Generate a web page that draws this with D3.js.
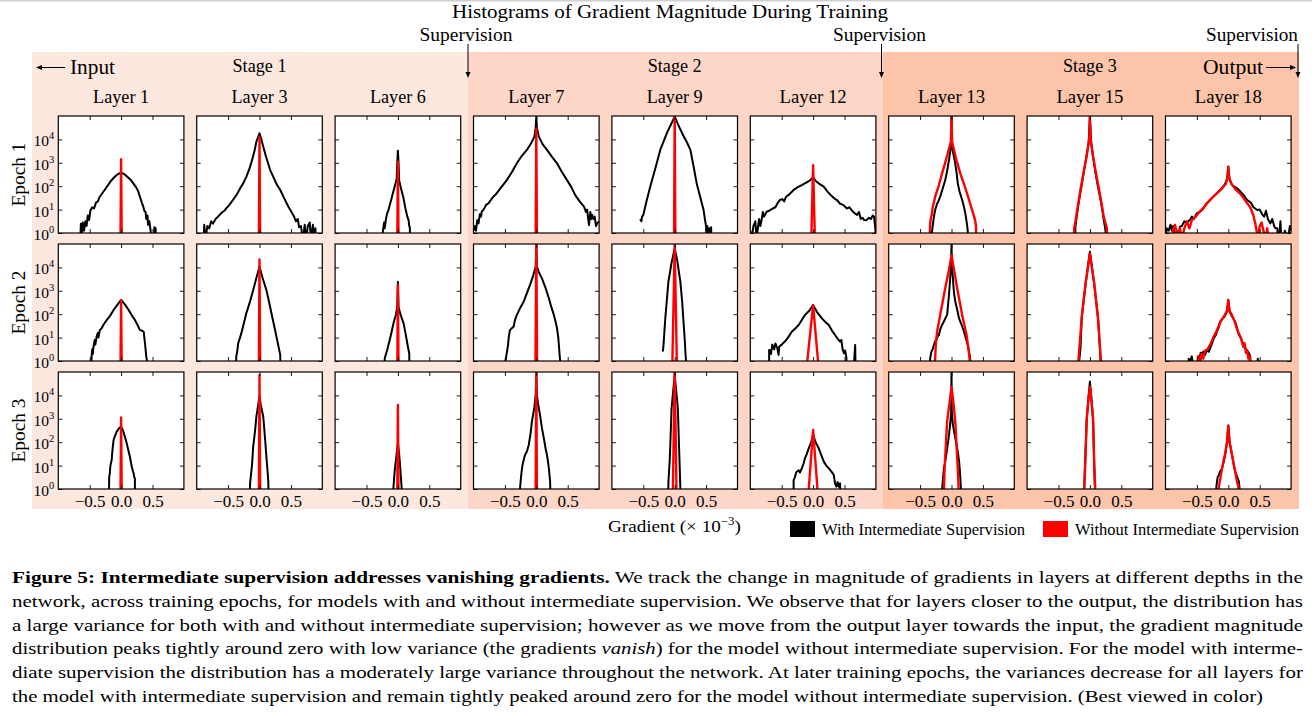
<!DOCTYPE html>
<html><head><meta charset="utf-8">
<script src="https://cdn.jsdelivr.net/npm/d3@7"></script>
<style>
body{margin:0;background:#fff}
svg{display:block}
text{fill:#000}
</style>
</head><body>
<svg id="c" width="1312" height="712"></svg>
<script>
// ---------- labels ----------
const chartTitle = "Histograms of Gradient Magnitude During Training";
const layers = ["Layer 1","Layer 3","Layer 6","Layer 7","Layer 9","Layer 12","Layer 13","Layer 15","Layer 18"];
const epochs = ["Epoch 1","Epoch 2","Epoch 3"];
const stages = ["Stage 1","Stage 2","Stage 3"];
const xTickVals = [-0.5, 0.0, 0.5];
const yTickExps = [0, 1, 2, 3, 4];
const seriesNames = ["With Intermediate Supervision","Without Intermediate Supervision"];

// ---------- data: [gradient (x1e-3), log10(count)] ----------
// Epoch 1
const ep1_l1_with = [[-0.66,-1],[-0.64,0.4],[-0.63,-0.2],[-0.61,0.45],[-0.59,0.1],[-0.57,0.5],[-0.55,0.3],[-0.53,0.75],[-0.51,0.55],[-0.49,0.95],[-0.46,1.1],[-0.43,1.05],[-0.40,1.3],[-0.37,1.35],[-0.34,1.55],[-0.30,1.7],[-0.26,1.85],[-0.22,2.0],[-0.17,2.2],[-0.12,2.35],[-0.07,2.48],[-0.03,2.55],[0,2.58],[0.04,2.53],[0.08,2.45],[0.12,2.35],[0.16,2.25],[0.20,2.1],[0.24,1.95],[0.27,1.8],[0.30,1.55],[0.33,1.3],[0.35,1.15],[0.37,0.95],[0.39,0.9],[0.40,0.6],[0.42,0.75],[0.43,0.35],[0.45,0.5],[0.47,0.1],[0.49,-1],[0.52,-1],[0.53,0.25],[0.55,0.2],[0.56,-1]];
const ep1_l1_wo = [[-0.012,-1],[0,3.15],[0.012,-1]];
const ep1_l3_with = [[-0.90,-1],[-0.88,0.35],[-0.86,-0.3],[-0.83,0.3],[-0.80,0.2],[-0.77,0.5],[-0.74,0.4],[-0.70,0.6],[-0.66,0.7],[-0.61,0.85],[-0.56,0.95],[-0.53,1.05],[-0.48,1.2],[-0.42,1.42],[-0.36,1.65],[-0.31,1.9],[-0.26,2.12],[-0.21,2.4],[-0.16,2.75],[-0.12,3.1],[-0.08,3.5],[-0.05,3.9],[0,4.26],[0.03,4.0],[0.06,3.69],[0.10,3.3],[0.14,2.95],[0.17,2.69],[0.22,2.4],[0.27,2.1],[0.33,1.84],[0.40,1.45],[0.46,1.12],[0.51,0.9],[0.55,0.7],[0.58,0.5],[0.61,0.6],[0.63,0.25],[0.66,0.3],[0.69,-0.3],[0.72,0.35],[0.74,-0.3],[0.77,0.3],[0.80,0.45],[0.82,-0.3],[0.85,0.35],[0.87,-0.2],[0.89,0.2],[0.90,-1]];
const ep1_l3_wo = [[-0.012,-1],[0,4.1],[0.012,-1]];
const ep1_l6_with = [[-0.25,-1],[-0.24,0.05],[-0.22,0.45],[-0.21,0.2],[-0.19,0.6],[-0.17,0.85],[-0.15,0.98],[-0.13,1.2],[-0.10,1.48],[-0.08,1.7],[-0.05,2.0],[-0.02,2.3],[-0.01,3.0],[0,3.52],[0.01,3.0],[0.02,2.25],[0.05,1.9],[0.09,1.48],[0.12,1.05],[0.15,0.7],[0.17,0.55],[0.18,0.3],[0.19,0.25],[0.20,-1]];
const ep1_l6_wo = [[-0.012,-1],[0,3.05],[0.012,-1]];
const ep1_l7_with = [[-1.0,0.1],[-0.98,0.3],[-0.96,0.1],[-0.94,0.55],[-0.92,0.41],[-0.90,0.8],[-0.88,0.7],[-0.87,0.91],[-0.84,1.0],[-0.80,1.2],[-0.76,1.27],[-0.70,1.5],[-0.63,1.7],[-0.55,1.98],[-0.47,2.26],[-0.39,2.6],[-0.31,2.98],[-0.23,3.3],[-0.15,3.55],[-0.08,3.85],[-0.03,4.12],[-0.01,4.5],[0,4.97],[0.01,4.5],[0.04,4.12],[0.10,3.8],[0.17,3.55],[0.25,3.25],[0.33,2.98],[0.41,2.6],[0.49,2.26],[0.56,1.95],[0.62,1.62],[0.69,1.35],[0.76,1.13],[0.79,0.9],[0.81,1.0],[0.83,0.5],[0.84,0.34],[0.86,0.9],[0.88,0.6],[0.89,0.77],[0.91,0.6],[0.93,0.7],[0.95,0.3],[0.97,0.41],[1.0,0.5]];
const ep1_l7_wo = [[-0.012,-1],[0,4.47],[0.012,-1]];
const ep1_l9_with = [[-0.55,0.6],[-0.53,0.5],[-0.52,0.7],[-0.50,0.77],[-0.45,1.35],[-0.39,1.98],[-0.31,2.75],[-0.23,3.55],[-0.12,4.3],[0,4.97],[0.06,4.6],[0.13,4.2],[0.19,3.9],[0.25,3.55],[0.30,2.85],[0.35,2.12],[0.40,1.6],[0.46,0.98],[0.48,0.6],[0.50,0.27],[0.51,-1],[0.52,0.3],[0.53,-1],[0.55,0.2],[0.56,-1],[0.58,0.25],[0.59,-1]];
const ep1_l9_wo = [[-0.012,-1],[0,5.2],[0.012,-1]];
const ep1_l12_with = [[-1.0,0.1],[-0.98,-0.3],[-0.95,0.3],[-0.92,0.5],[-0.90,-0.2],[-0.88,0.2],[-0.86,0.6],[-0.84,0.3],[-0.82,0.56],[-0.80,0.9],[-0.78,0.7],[-0.74,0.91],[-0.70,0.95],[-0.64,1.05],[-0.60,1.1],[-0.56,1.3],[-0.53,1.41],[-0.49,1.45],[-0.46,1.35],[-0.43,1.55],[-0.38,1.65],[-0.31,1.84],[-0.25,1.95],[-0.18,2.05],[-0.11,2.15],[-0.05,2.25],[0,2.38],[0.05,2.2],[0.10,2.1],[0.17,1.98],[0.22,1.8],[0.27,1.65],[0.31,1.55],[0.35,1.45],[0.38,1.41],[0.43,1.25],[0.48,1.2],[0.54,1.05],[0.58,1.1],[0.62,0.95],[0.66,0.85],[0.70,0.77],[0.73,0.9],[0.76,0.6],[0.79,0.65],[0.81,0.56],[0.85,0.55],[0.89,0.65],[0.92,0.6],[0.95,0.75],[0.97,0.7],[0.99,0.2],[1.0,-0.2]];
const ep1_l12_wo = [[-0.028,-0.2],[0,2.9],[0.028,-0.2]];
const ep1_l13_with = [[-0.33,-1],[-0.31,0.06],[-0.30,0.3],[-0.29,0.48],[-0.28,0.7],[-0.26,0.98],[-0.23,1.25],[-0.21,1.35],[-0.18,1.55],[-0.14,1.9],[-0.10,2.26],[-0.07,2.65],[-0.04,3.12],[-0.02,3.5],[-0.005,3.83],[0,4.97],[0.005,3.83],[0.02,3.5],[0.05,3.12],[0.08,2.6],[0.10,2.12],[0.13,1.75],[0.17,1.41],[0.20,1.1],[0.22,0.84],[0.24,0.5],[0.25,0.3],[0.26,0.06],[0.27,-1]];
const ep1_l13_wo = [[-0.36,-1],[-0.34,0.41],[-0.33,0.6],[-0.31,0.84],[-0.30,1.1],[-0.28,1.3],[-0.26,1.55],[-0.20,2.05],[-0.15,2.55],[-0.08,3.2],[-0.01,3.9],[0,4.97],[0.01,3.9],[0.07,3.2],[0.14,2.55],[0.21,2.0],[0.28,1.41],[0.32,1.05],[0.36,0.7],[0.38,0.5],[0.39,0.27],[0.40,-1]];
const ep1_l15_with = [[-0.24,-1],[-0.23,0.27],[-0.21,0.7],[-0.18,1.27],[-0.14,1.9],[-0.10,2.55],[-0.06,3.2],[-0.02,3.85],[0,4.97],[0.02,3.85],[0.05,3.25],[0.09,2.55],[0.13,1.95],[0.17,1.41],[0.20,0.95],[0.22,0.56],[0.24,0.25],[0.25,0.06],[0.26,-1]];
const ep1_l15_wo = [[-0.26,-1],[-0.25,0.2],[-0.23,0.5],[-0.19,1.2],[-0.15,1.85],[-0.10,2.6],[-0.05,3.3],[-0.01,4.05],[0,4.97],[0.01,4.05],[0.05,3.3],[0.10,2.5],[0.15,1.8],[0.19,1.2],[0.22,0.7],[0.25,0.4],[0.27,0.2],[0.28,-1]];
const ep1_l18_with = [[-1.0,-0.2],[-0.98,0.2],[-0.95,0.1],[-0.92,0.35],[-0.90,0.1],[-0.88,0.3],[-0.87,0.2],[-0.84,-0.5],[-0.82,0.1],[-0.80,-0.3],[-0.77,0.27],[-0.74,0.3],[-0.70,0.5],[-0.66,0.45],[-0.61,0.56],[-0.58,0.7],[-0.55,0.6],[-0.50,0.85],[-0.45,0.91],[-0.40,1.05],[-0.35,1.25],[-0.29,1.41],[-0.22,1.6],[-0.13,1.84],[-0.06,2.05],[-0.02,2.3],[0,2.83],[0.02,2.3],[0.06,2.05],[0.14,1.91],[0.20,1.75],[0.25,1.6],[0.30,1.41],[0.36,1.3],[0.40,1.1],[0.46,0.98],[0.50,1.0],[0.54,0.8],[0.57,0.7],[0.60,0.95],[0.63,0.6],[0.67,0.41],[0.70,0.6],[0.73,0.3],[0.75,0.2],[0.78,0.2],[0.80,-0.5],[0.83,0.5],[0.85,-0.5],[0.90,0.1],[0.95,-0.3],[0.98,0.3],[1.0,0.1]];
const ep1_l18_wo = [[-0.9,-1],[-0.88,0.1],[-0.85,0.35],[-0.82,0.05],[-0.80,-0.5],[-0.77,0.2],[-0.74,-0.3],[-0.70,0.2],[-0.66,0.5],[-0.62,0.2],[-0.58,0.55],[-0.52,0.7],[-0.46,0.9],[-0.40,1.05],[-0.33,1.3],[-0.26,1.5],[-0.18,1.7],[-0.10,1.9],[-0.04,2.1],[-0.01,2.4],[0,2.83],[0.01,2.4],[0.05,2.1],[0.12,1.85],[0.20,1.65],[0.28,1.35],[0.35,1.1],[0.40,0.75],[0.43,0.4],[0.45,0.1],[0.47,-0.3],[0.50,0.3],[0.53,0.45],[0.56,0.1],[0.59,-0.3],[0.62,0.2],[0.65,-0.5],[0.68,-1]];
// Epoch 2
const ep2_l1_with = [[-0.48,-1],[-0.47,0.19],[-0.46,0.5],[-0.45,0.3],[-0.44,0.61],[-0.42,0.9],[-0.41,0.7],[-0.39,1.04],[-0.37,1.2],[-0.36,1.0],[-0.34,1.32],[-0.31,1.4],[-0.28,1.55],[-0.23,1.75],[-0.17,1.95],[-0.12,2.18],[-0.06,2.4],[0,2.61],[0.06,2.42],[0.12,2.18],[0.17,1.95],[0.22,1.75],[0.26,1.55],[0.30,1.32],[0.33,1.3],[0.36,1.25],[0.37,1.0],[0.38,0.75],[0.39,0.5],[0.40,0.2],[0.41,0.04],[0.42,-1]];
const ep2_l1_wo = [[-0.012,-1],[0,2.6],[0.012,-1]];
const ep2_l3_with = [[-0.38,-1],[-0.37,0.19],[-0.35,0.5],[-0.34,0.75],[-0.31,1.0],[-0.29,1.18],[-0.25,1.6],[-0.21,2.04],[-0.15,2.55],[-0.10,3.03],[-0.05,3.55],[0,4.03],[0.05,3.55],[0.11,3.03],[0.15,2.55],[0.19,2.04],[0.23,1.55],[0.27,1.04],[0.30,0.65],[0.33,0.26],[0.34,-1]];
const ep2_l3_wo = [[-0.012,-1],[0,4.34],[0.012,-1]];
const ep2_l6_with = [[-0.22,-1],[-0.21,0.11],[-0.19,0.3],[-0.17,0.47],[-0.15,0.7],[-0.13,0.9],[-0.10,1.25],[-0.07,1.61],[-0.03,2.0],[-0.01,2.32],[0,3.39],[0.01,2.32],[0.04,2.0],[0.09,1.61],[0.12,1.2],[0.14,0.9],[0.16,0.6],[0.18,0.33],[0.19,-1]];
const ep2_l6_wo = [[-0.012,-1],[0,3.25],[0.012,-1]];
const ep2_l7_with = [[-0.50,-1],[-0.49,0.0],[-0.47,0.35],[-0.45,0.68],[-0.44,1.0],[-0.42,1.32],[-0.39,1.4],[-0.37,1.45],[-0.36,1.47],[-0.34,1.75],[-0.31,1.97],[-0.25,2.3],[-0.20,2.54],[-0.15,2.9],[-0.10,3.25],[-0.05,3.65],[-0.01,4.03],[0,4.96],[0.01,4.03],[0.04,3.8],[0.09,3.53],[0.15,3.1],[0.20,2.68],[0.24,2.3],[0.28,1.97],[0.31,1.65],[0.33,1.40],[0.35,1.0],[0.36,0.68],[0.37,0.3],[0.38,0.0],[0.39,-1]];
const ep2_l7_wo = [[-0.015,-1],[0,5.2],[0.015,-1]];
const ep2_l9_with = [[-0.19,0.4],[-0.18,0.61],[-0.15,1.82],[-0.10,3.39],[-0.05,4.2],[0,4.81],[0.04,4.3],[0.09,3.39],[0.12,2.5],[0.14,1.68],[0.16,0.9],[0.17,0.4],[0.18,0.0],[0.19,-1]];
const ep2_l9_wo = [[-0.038,-0.2],[0,4.96],[0.035,-0.2]];
const ep2_l12_with = [[-0.72,-1],[-0.70,0.0],[-0.70,0.47],[-0.69,0.47],[-0.67,0.3],[-0.65,0.7],[-0.62,0.5],[-0.60,0.75],[-0.57,0.55],[-0.55,0.26],[-0.54,0.61],[-0.50,0.7],[-0.45,0.83],[-0.40,1.0],[-0.34,1.25],[-0.28,1.4],[-0.23,1.54],[-0.18,1.75],[-0.13,1.97],[-0.06,2.15],[0,2.39],[0.06,2.1],[0.14,1.82],[0.20,1.65],[0.25,1.54],[0.30,1.3],[0.35,1.11],[0.39,0.95],[0.43,0.83],[0.45,0.9],[0.47,0.5],[0.49,0.33],[0.51,0.45],[0.53,0.15],[0.54,-1],[0.63,-1],[0.67,0.68],[0.68,-1]];
const ep2_l12_wo = [[-0.10,-0.2],[0,2.39],[0.085,-0.2]];
const ep2_l13_with = [[-0.35,-1],[-0.34,0.11],[-0.32,0.4],[-0.30,0.5],[-0.28,0.68],[-0.26,0.85],[-0.24,0.9],[-0.22,1.05],[-0.20,1.11],[-0.18,1.35],[-0.15,1.54],[-0.12,1.7],[-0.07,1.97],[-0.04,2.82],[-0.01,3.96],[0,4.96],[0.01,3.96],[0.04,2.9],[0.06,2.54],[0.09,2.2],[0.12,1.82],[0.16,1.55],[0.20,1.25],[0.23,0.95],[0.26,0.68],[0.28,0.4],[0.30,0.04],[0.31,-1]];
const ep2_l13_wo = [[-0.27,-1],[-0.26,0.11],[-0.25,0.7],[-0.23,1.25],[-0.18,1.97],[-0.10,3.11],[-0.04,3.9],[0,4.53],[0.04,3.9],[0.09,3.11],[0.17,1.97],[0.24,1.11],[0.27,0.5],[0.29,0.04],[0.30,-1]];
const ep2_l15_with = [[-0.18,-1],[-0.17,0.0],[-0.15,0.54],[-0.13,1.82],[-0.07,3.25],[-0.03,4.1],[0,4.67],[0.03,4.1],[0.07,3.25],[0.13,1.82],[0.16,0.54],[0.17,0.0],[0.18,-1]];
const ep2_l15_wo = [[-0.19,-1],[-0.18,0.1],[-0.16,0.8],[-0.13,1.9],[-0.07,3.3],[-0.03,4.0],[0,4.6],[0.03,4.0],[0.07,3.3],[0.13,1.8],[0.16,0.6],[0.175,0.0],[0.185,-1]];
const ep2_l18_with = [[-0.65,-1],[-0.63,0.1],[-0.61,0.0],[-0.58,0.2],[-0.52,-1],[-0.46,0.1],[-0.44,0.35],[-0.42,0.3],[-0.40,0.4],[-0.37,0.26],[-0.34,0.45],[-0.31,0.4],[-0.29,0.54],[-0.26,0.75],[-0.23,0.97],[-0.20,1.1],[-0.18,1.25],[-0.15,1.45],[-0.13,1.68],[-0.06,1.9],[-0.02,2.11],[0,2.61],[0.02,2.11],[0.06,1.9],[0.11,1.68],[0.14,1.4],[0.17,1.11],[0.20,1.0],[0.22,0.83],[0.25,0.7],[0.27,0.54],[0.30,0.45],[0.33,0.33],[0.35,0.2],[0.37,-1],[0.45,-1],[0.47,0.1],[0.49,-1]];
const ep2_l18_wo = [[-0.5,-1],[-0.48,0.2],[-0.46,-0.5],[-0.43,0.3],[-0.40,0.1],[-0.37,0.45],[-0.33,0.5],[-0.30,0.65],[-0.27,0.8],[-0.24,1.0],[-0.20,1.2],[-0.16,1.45],[-0.12,1.7],[-0.06,1.95],[-0.02,2.15],[0,2.61],[0.02,2.15],[0.06,1.95],[0.10,1.7],[0.14,1.35],[0.18,1.1],[0.21,0.9],[0.24,0.6],[0.26,0.75],[0.28,0.35],[0.30,0.45],[0.32,0.1],[0.34,0.2],[0.36,-1]];
// Epoch 3
const ep3_l1_with = [[-0.20,-1],[-0.19,0.31],[-0.19,0.5],[-0.18,0.67],[-0.17,1.0],[-0.15,1.24],[-0.14,1.6],[-0.12,2.09],[-0.10,2.25],[-0.07,2.45],[-0.03,2.6],[0,2.66],[0.03,2.5],[0.06,2.24],[0.09,1.95],[0.12,1.6],[0.14,1.38],[0.16,1.1],[0.17,0.95],[0.19,0.75],[0.20,0.67],[0.21,0.5],[0.22,0.46],[0.22,-1]];
const ep3_l1_wo = [[-0.012,-1],[0,3.06],[0.012,-1]];
const ep3_l3_with = [[-0.16,-1],[-0.15,0.24],[-0.12,1.0],[-0.10,1.81],[-0.07,2.5],[-0.05,3.09],[-0.02,3.6],[0,3.95],[0.02,3.6],[0.06,3.09],[0.09,2.1],[0.11,1.38],[0.13,0.7],[0.14,0.31],[0.15,-1]];
const ep3_l3_wo = [[-0.012,-1],[0,4.87],[0.012,-1]];
const ep3_l6_with = [[-0.08,-1],[-0.07,0.1],[-0.05,0.81],[-0.02,1.5],[0,1.95],[0.02,1.5],[0.04,0.81],[0.06,0.03],[0.065,-1]];
const ep3_l6_wo = [[-0.012,-1],[0,3.59],[0.012,-1]];
const ep3_l7_with = [[-0.27,-1],[-0.26,0.0],[-0.25,0.31],[-0.24,0.6],[-0.22,1.03],[-0.20,1.25],[-0.18,1.45],[-0.15,1.6],[-0.12,1.88],[-0.09,2.4],[-0.07,2.88],[-0.03,3.5],[-0.01,4.02],[0,4.94],[0.01,4.02],[0.03,3.6],[0.06,3.16],[0.09,2.6],[0.12,2.17],[0.15,1.7],[0.17,1.45],[0.19,1.1],[0.20,0.88],[0.21,0.6],[0.22,0.31],[0.23,-1]];
const ep3_l7_wo = [[-0.012,-1],[0,5.2],[0.012,-1]];
const ep3_l9_with = [[-0.11,-1],[-0.10,0.31],[-0.08,1.2],[-0.07,1.88],[-0.05,3.45],[-0.02,4.3],[0,4.87],[0.02,4.3],[0.05,3.45],[0.07,1.74],[0.08,0.9],[0.09,0.0],[0.095,-1]];
const ep3_l9_wo = [[-0.03,-0.3],[0,5.2],[0.03,-0.3]];
const ep3_l12_with = [[-0.32,-1],[-0.31,0.0],[-0.31,0.38],[-0.29,0.5],[-0.27,0.7],[-0.26,0.74],[-0.23,0.8],[-0.21,0.7],[-0.18,0.88],[-0.15,1.1],[-0.13,1.31],[-0.10,1.5],[-0.07,1.74],[-0.03,2.0],[0,2.31],[0.04,2.0],[0.09,1.74],[0.13,1.45],[0.17,1.17],[0.21,1.0],[0.25,0.88],[0.29,0.75],[0.33,0.60],[0.34,0.4],[0.35,0.24],[0.37,0.1],[0.39,0.3],[0.41,0.1],[0.43,0.24],[0.44,-1]];
const ep3_l12_wo = [[-0.075,-0.2],[0,2.52],[0.075,-0.2]];
const ep3_l13_with = [[-0.16,-1],[-0.15,0.0],[-0.14,0.3],[-0.13,0.6],[-0.12,0.9],[-0.10,1.17],[-0.07,1.7],[-0.04,2.31],[-0.02,2.8],[-0.005,3.3],[0,5.1],[0.005,3.3],[0.02,2.8],[0.05,2.31],[0.08,1.9],[0.10,1.6],[0.12,1.2],[0.13,0.88],[0.14,0.5],[0.15,0.0],[0.16,-1]];
const ep3_l13_wo = [[-0.13,-1],[-0.12,0.0],[-0.11,0.88],[-0.07,2.88],[-0.03,3.7],[0,4.37],[0.03,3.7],[0.06,2.88],[0.10,0.88],[0.11,0.3],[0.12,-1]];
const ep3_l15_with = [[-0.10,-1],[-0.09,0.0],[-0.08,0.88],[-0.05,3.02],[-0.02,4.0],[0,4.59],[0.02,4.0],[0.05,3.02],[0.07,0.88],[0.08,0.0],[0.09,-1]];
const ep3_l15_wo = [[-0.10,-1],[-0.09,0.1],[-0.075,1.0],[-0.05,3.0],[-0.02,3.9],[0,4.37],[0.02,3.9],[0.05,3.0],[0.07,1.0],[0.085,0.0],[0.095,-1]];
const ep3_l18_with = [[-0.20,-1],[-0.19,0.1],[-0.18,0.3],[-0.17,0.5],[-0.15,0.6],[-0.13,0.75],[-0.10,0.88],[-0.07,1.2],[-0.05,1.45],[-0.02,2.02],[0,2.71],[0.02,2.02],[0.06,1.45],[0.09,1.0],[0.11,0.74],[0.13,0.6],[0.15,0.45],[0.17,0.31],[0.18,0.0],[0.19,-1]];
const ep3_l18_wo = [[-0.16,-1],[-0.15,0.1],[-0.13,0.4],[-0.10,0.88],[-0.07,1.3],[-0.05,1.5],[-0.02,2.0],[0,2.71],[0.02,2.0],[0.06,1.45],[0.09,1.0],[0.12,0.6],[0.14,0.3],[0.16,0.1],[0.17,-1]];

const withTable = [
  [ep1_l1_with,ep1_l3_with,ep1_l6_with,ep1_l7_with,ep1_l9_with,ep1_l12_with,ep1_l13_with,ep1_l15_with,ep1_l18_with],
  [ep2_l1_with,ep2_l3_with,ep2_l6_with,ep2_l7_with,ep2_l9_with,ep2_l12_with,ep2_l13_with,ep2_l15_with,ep2_l18_with],
  [ep3_l1_with,ep3_l3_with,ep3_l6_with,ep3_l7_with,ep3_l9_with,ep3_l12_with,ep3_l13_with,ep3_l15_with,ep3_l18_with]];
const woTable = [
  [ep1_l1_wo,ep1_l3_wo,ep1_l6_wo,ep1_l7_wo,ep1_l9_wo,ep1_l12_wo,ep1_l13_wo,ep1_l15_wo,ep1_l18_wo],
  [ep2_l1_wo,ep2_l3_wo,ep2_l6_wo,ep2_l7_wo,ep2_l9_wo,ep2_l12_wo,ep2_l13_wo,ep2_l15_wo,ep2_l18_wo],
  [ep3_l1_wo,ep3_l3_wo,ep3_l6_wo,ep3_l7_wo,ep3_l9_wo,ep3_l12_wo,ep3_l13_wo,ep3_l15_wo,ep3_l18_wo]];

const captionLines = [
  [["Figure 5: Intermediate supervision addresses vanishing gradients.","bold"],["  We track the change in magnitude of gradients in layers at different depths in the",""]],
  [["network, across training epochs, for models with and without intermediate supervision. We observe that for layers closer to the output, the distribution has",""]],
  [["a large variance for both with and without intermediate supervision; however as we move from the output layer towards the input, the gradient magnitude",""]],
  [["distribution peaks tightly around zero with low variance (the gradients ",""],["vanish","italic"],[") for the model without intermediate supervision. For the model with interme-",""]],
  [["diate supervision the distribution has a moderately large variance throughout the network. At later training epochs, the variances decrease for all layers for",""]],
  [["the model with intermediate supervision and remain tightly peaked around zero for the model without intermediate supervision. (Best viewed in color)",""]]
];

// ---------- font choice (first installed Times-like serif) ----------
function pickFont(cands){
  const cv = document.createElement("canvas").getContext("2d");
  const s = "Histograms of Gradient Magnitude 0123456789 Wy";
  cv.font = "40px monospace"; const wm = cv.measureText(s).width;
  cv.font = "40px sans-serif"; const ws = cv.measureText(s).width;
  for(const f of cands){
    cv.font = `40px "${f}", monospace`; const a = cv.measureText(s).width;
    cv.font = `40px "${f}", sans-serif`; const b = cv.measureText(s).width;
    if(Math.abs(a-wm)>0.5 && Math.abs(b-ws)>0.5) return `"${f}", serif`;
  }
  return "serif";
}
const FONT = pickFont(["Liberation Serif","Times New Roman","Tinos","Times","Nimbus Roman","Nimbus Roman No9 L","TeX Gyre Termes","FreeSerif","DejaVu Serif"]);

// ---------- layout ----------
const svg = d3.select("#c").style("font-family", FONT);
const W = 125.6, H = 117, X0 = 58.3, DX = 138.4, Y0 = 116, DY = 128;
const bandTop = 52, bandBot = 509;
const stageEdges = [32, 467.5, 882.5, 1299];
const stageFills = ["#fde8df", "#fdd6c8", "#fcc5aa"];

svg.append("rect").attr("x",0).attr("y",0).attr("width",1312).attr("height",1.5).attr("fill","#cfcfcf");

stages.forEach((s,i)=>{
  svg.append("rect").attr("x",stageEdges[i]).attr("y",bandTop)
    .attr("width",stageEdges[i+1]-stageEdges[i]).attr("height",bandBot-bandTop).attr("fill",stageFills[i]);
});

function txt(x,y,str,size,anchor,len){
  const t = svg.append("text").attr("x",x).attr("y",y).attr("font-size",size)
    .attr("text-anchor",anchor||"start").text(str);
  if(len){ t.attr("textLength",len).attr("lengthAdjust","spacingAndGlyphs"); }
  return t;
}

// title
txt(670, 18, chartTitle, 19, "middle", 436);

// supervision arrows
const supX = [468, 881.5, 1298];
supX.forEach((sx,i)=>{
  if(i<2) txt(sx-2, 41, "Supervision", 18, "middle", 93);
  else txt(sx, 41, "Supervision", 18, "end", 92);
  svg.append("line").attr("x1",sx).attr("x2",sx).attr("y1",44).attr("y2",73).attr("stroke","#000").attr("stroke-width",1);
  svg.append("path").attr("d",`M${sx-2.5},${72} L${sx+2.5},${72} L${sx},${78} Z`).attr("fill","#000");
});

// Input / Output
svg.append("line").attr("x1",41).attr("x2",65).attr("y1",67.5).attr("y2",67.5).attr("stroke","#000").attr("stroke-width",1);
svg.append("path").attr("d","M36,67.5 L42,65 L42,70 Z").attr("fill","#000");
txt(70, 74, "Input", 20, "start", 45);
txt(1203, 74, "Output", 20, "start", 60);
svg.append("line").attr("x1",1266).attr("x2",1291).attr("y1",67.5).attr("y2",67.5).attr("stroke","#000").attr("stroke-width",1);
svg.append("path").attr("d","M1296,67.5 L1290,65 L1290,70 Z").attr("fill","#000");

// stage labels and layer labels
const cx = c => X0 + c*DX + W/2;
stages.forEach((s,i)=> txt(cx(i*3+1), 72, s, 18, "middle", 54));
layers.forEach((l,c)=> txt(cx(c), 103, l, 18, "middle", l.length>7 ? 67 : 56));

// epoch labels
epochs.forEach((e,r)=>{
  const yy = Y0 + r*DY + H/2;
  svg.append("text").attr("transform",`translate(25,${yy}) rotate(-90)`)
    .attr("text-anchor","middle").attr("font-size",19).text(e)
    .attr("textLength",64).attr("lengthAdjust","spacingAndGlyphs");
});

// scales
const x = d3.scaleLinear().domain([-1,1]).range([0,W]);
const y = d3.scaleLog().domain([1,1e5]).range([H,0]);
const line = d3.line().x(d=>x(d[0])).y(d=>y(Math.pow(10,d[1])));

svg.append("defs").append("clipPath").attr("id","pc").append("rect").attr("width",W).attr("height",H);

function styleAxis(g){
  g.attr("font-family",null).attr("font-size",null);
  g.select(".domain").remove();
  g.selectAll(".tick line").attr("stroke","#000").attr("stroke-width",0.9);
  g.selectAll(".tick text").attr("font-size",17).attr("fill","#000");
}

for(let r=0;r<3;r++){
  for(let c=0;c<9;c++){
    const g = svg.append("g").attr("transform",`translate(${X0+c*DX},${Y0+r*DY})`);
    g.append("rect").attr("width",W).attr("height",H).attr("fill","#fff");
    const cg = g.append("g").attr("clip-path","url(#pc)");
    cg.append("path").datum(withTable[r][c]).attr("d",line).attr("fill","none")
      .attr("stroke","#000").attr("stroke-width",2).attr("stroke-linejoin","round");
    cg.append("path").datum(woTable[r][c]).attr("d",line).attr("fill","none")
      .attr("stroke","#ff0000").attr("stroke-width",2.4).attr("stroke-linejoin","round");

    const yTickVals = yTickExps.map(e=>Math.pow(10,e));
    g.append("g").call(d3.axisLeft(y).tickValues(yTickVals).tickSize(-4).tickFormat("")).call(styleAxis);
    g.append("g").attr("transform",`translate(${W},0)`).call(d3.axisRight(y).tickValues(yTickVals).tickSize(-4).tickFormat("")).call(styleAxis);
    g.append("g").call(d3.axisTop(x).tickValues(xTickVals).tickSize(-4).tickFormat("")).call(styleAxis);
    g.append("g").attr("transform",`translate(0,${H})`)
      .call(d3.axisBottom(x).tickValues(xTickVals).tickSize(-4).tickPadding(6)
        .tickFormat(r===2 ? d3.format(".1f") : ""))
      .call(styleAxis);

    g.append("rect").attr("width",W).attr("height",H).attr("fill","none").attr("stroke","#000").attr("stroke-width",1.2);

    if(c===0){
      yTickExps.forEach(e=>{
        const t = g.append("text").attr("x",-4).attr("y",y(Math.pow(10,e))+7)
          .attr("text-anchor","end").attr("font-size",15.5);
        t.append("tspan").text("10");
        t.append("tspan").attr("font-size",10.5).attr("dy",-7).text(String(e));
      });
    }
  }
}

// x label + legend
const gl = svg.append("text").attr("x",608).attr("y",532).attr("font-size",17)
  .attr("textLength",133).attr("lengthAdjust","spacingAndGlyphs");
gl.append("tspan").text("Gradient (× 10");
gl.append("tspan").attr("font-size",11.5).attr("dy",-7).text("−3");
gl.append("tspan").attr("dy",7).text(")");

const legendX = [790, 1043];
const legendColors = ["#000","#ff0000"];
const legendLens = [203, 224];
seriesNames.forEach((n,i)=>{
  svg.append("rect").attr("x",legendX[i]).attr("y",521).attr("width",25).attr("height",16).attr("fill",legendColors[i]);
  txt(legendX[i]+32, 535, n, 16, "start", legendLens[i]);
});

// caption
const capBase = [583, 607, 630.5, 654, 678, 701.5];
captionLines.forEach((ln,i)=>{
  const t = svg.append("text").attr("x",12).attr("y",capBase[i]).attr("font-size",17.5)
    .attr("textLength", i===5 ? 1251 : 1291).attr("lengthAdjust","spacingAndGlyphs");
  ln.forEach(([s,st])=>{
    const sp = t.append("tspan").text(s);
    if(st==="bold") sp.attr("font-weight","bold");
    if(st==="italic") sp.attr("font-style","italic");
  });
});
</script>
</body></html>
